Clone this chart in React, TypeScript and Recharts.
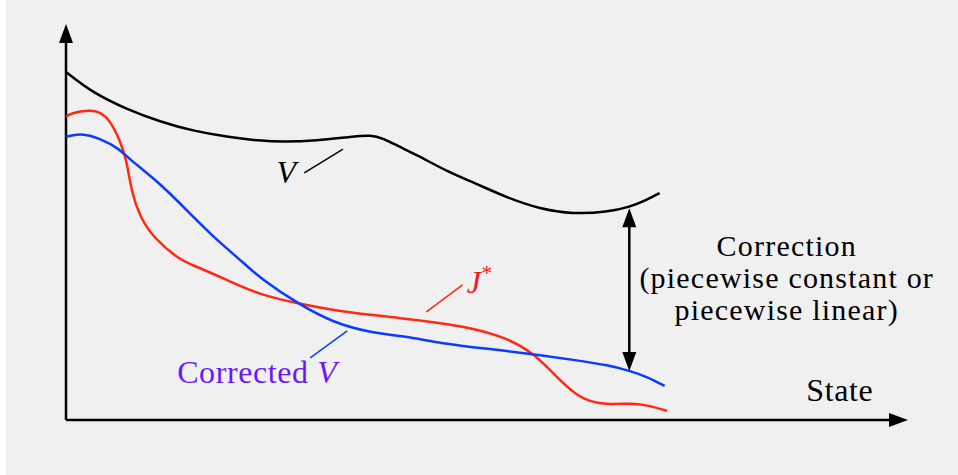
import React from "react";
import {
  LineChart,
  Line,
  XAxis,
  YAxis,
  ReferenceLine,
  ReferenceDot,
} from "recharts";

// state axis and value axis both run 0..100 (schematic units)
const vState = [0, 3.2, 7.2, 11.2, 15.1, 19.1, 23.0, 25.8, 29.8, 33.7, 36.3, 37.6, 39.7, 41.7, 45.6, 48.3, 52.4, 56.3, 60.2, 64.3, 67.0, 69.0, 70.5];
const vValue = [87.9, 82.6, 78.5, 75.3, 73.0, 71.5, 70.5, 70.2, 70.5, 71.5, 72.0, 71.2, 68.9, 66.9, 62.4, 60.1, 56.1, 53.3, 52.0, 52.5, 53.8, 55.6, 57.3];

const jState = [0, 0.5, 2.9, 4.0, 5.2, 6.4, 7.2, 7.8, 8.8, 10.3, 13.5, 15.1, 19.1, 23.0, 27.8, 33.7, 39.7, 44.4, 48.3, 52.4, 55.5, 57.5, 59.5, 61.4, 64.3, 67.0, 69.0, 71.4];
const jValue = [76.5, 77.5, 78.3, 77.8, 75.8, 70.7, 65.7, 57.3, 51.3, 46.2, 40.4, 39.1, 35.4, 31.6, 29.3, 27.0, 25.8, 24.5, 23.2, 20.7, 16.9, 12.6, 8.3, 5.1, 3.8, 4.3, 3.8, 2.3];

const cState = [0, 1.7, 4.0, 6.4, 7.2, 11.2, 15.1, 17.9, 20.7, 23.0, 27.8, 31.7, 35.7, 41.7, 44.4, 48.3, 52.4, 56.3, 60.2, 64.3, 67.0, 69.0, 71.1];
const cValue = [71.5, 72.5, 71.2, 68.4, 66.4, 59.8, 51.3, 45.5, 40.4, 35.9, 29.0, 24.7, 22.2, 20.7, 19.4, 18.4, 17.4, 16.4, 15.2, 13.9, 12.4, 10.9, 8.6];

const correctionAt = 66.9;
const correctionLines = ["Correction", "(piecewise constant or", "piecewise linear)"];

const zip = (xs: number[], ys: number[]) => xs.map((x, i) => ({ s: x, v: ys[i] }));
const vData = zip(vState, vValue);
const jData = zip(jState, jValue);
const cData = zip(cState, cValue);

const FONT = "Liberation Serif";
const FS = 32;
const LS = 0.6;
const RED = "#ff2a10";
const BLUE = "#0a3cff";
const PURPLE = "#6a18ff";

function arrowHead(x: number, y: number, fx: number, fy: number, key: string) {
  // tip at (x,y), pointing away from (fx,fy)
  const len = 19;
  const half = 7;
  const dx = x - fx;
  const dy = y - fy;
  const d = Math.hypot(dx, dy) || 1;
  const ux = dx / d;
  const uy = dy / d;
  const bx = x - ux * len;
  const by = y - uy * len;
  const pts = `${x},${y} ${bx - uy * half},${by + ux * half} ${bx + uy * half},${by - ux * half}`;
  return <polygon key={key} points={pts} fill="#000" />;
}

function Arrow(props: any) {
  const { x1, y1, x2, y2, both } = props;
  const d = Math.hypot(x2 - x1, y2 - y1) || 1;
  const ux = (x2 - x1) / d;
  const uy = (y2 - y1) / d;
  const sx = both ? x1 + ux * 12 : x1;
  const sy = both ? y1 + uy * 12 : y1;
  return (
    <g>
      <line x1={sx} y1={sy} x2={x2 - ux * 12} y2={y2 - uy * 12} stroke="#000" strokeWidth={2.5} />
      {arrowHead(x2, y2, x1, y1, "end")}
      {both ? arrowHead(x1, y1, x2, y2, "start") : null}
    </g>
  );
}

function TextAt({ cx, cy, children, anchor = "start", color = "#000" }: any) {
  return (
    <text x={cx} y={cy} textAnchor={anchor} fill={color} fontFamily={FONT} fontSize={FS} letterSpacing={LS}>
      {children}
    </text>
  );
}

export default function App() {
  return (
    <div style={{ position: "absolute", left: 0, top: 0, width: 958, height: 475, background: "#fff" }}>
      <div style={{ position: "absolute", left: 6, top: 0, right: 0, bottom: 0, background: "#f0f0f0" }} />
      <div style={{ position: "absolute", left: 0, top: 0 }}>
        <LineChart width={958} height={475} margin={{ top: 24, right: 50, bottom: 55, left: 66 }}>
          <XAxis type="number" dataKey="s" domain={[0, 100]} hide allowDataOverflow />
          <YAxis type="number" dataKey="v" domain={[0, 100]} hide allowDataOverflow />

          {/* axes with arrowheads */}
          <ReferenceLine segment={[{ x: 0, y: 0 }, { x: 0, y: 100 }]} ifOverflow="visible" shape={(p: any) => <Arrow {...p} />} />
          <ReferenceLine segment={[{ x: 0, y: 0 }, { x: 100, y: 0 }]} ifOverflow="visible" shape={(p: any) => <Arrow {...p} />} />

          <Line data={vData} dataKey="v" type="basis" stroke="#000" strokeWidth={2.5} dot={false} isAnimationActive={false} />
          <Line data={jData} dataKey="v" type="basis" stroke={RED} strokeWidth={2.5} dot={false} isAnimationActive={false} />
          <Line data={cData} dataKey="v" type="basis" stroke={BLUE} strokeWidth={2.5} dot={false} isAnimationActive={false} />

          {/* correction double arrow */}
          <ReferenceLine
            segment={[{ x: correctionAt, y: 12.4 }, { x: correctionAt, y: 53.5 }]}
            ifOverflow="visible"
            shape={(p: any) => <Arrow {...p} both />}
          />

          {/* leader lines */}
          <ReferenceLine segment={[{ x: 28.3, y: 62.4 }, { x: 32.9, y: 68.4 }]} stroke="#000" strokeWidth={1.5} ifOverflow="visible" />
          <ReferenceLine segment={[{ x: 42.8, y: 27.3 }, { x: 47.1, y: 34.1 }]} stroke={RED} strokeWidth={1.5} ifOverflow="visible" />
          <ReferenceLine segment={[{ x: 29.0, y: 15.7 }, { x: 33.4, y: 22.5 }]} stroke={BLUE} strokeWidth={1.5} ifOverflow="visible" />

          {/* labels */}
          <ReferenceDot x={25.0} y={59.8} r={0} ifOverflow="visible" shape={(p: any) => (
            <TextAt cx={p.cx} cy={p.cy}><tspan fontStyle="italic">V</tspan></TextAt>
          )} />
          <ReferenceDot x={47.6} y={32.1} r={0} ifOverflow="visible" shape={(p: any) => (
            <TextAt cx={p.cx} cy={p.cy} color="#f01a1a">
              <tspan fontStyle="italic">J</tspan>
              <tspan fontSize={21} dy={-13}>*</tspan>
            </TextAt>
          )} />
          <ReferenceDot x={13.2} y={9.3} r={0} ifOverflow="visible" shape={(p: any) => (
            <TextAt cx={p.cx} cy={p.cy} color={PURPLE}>
              Corrected <tspan fontStyle="italic">V</tspan>
            </TextAt>
          )} />
          <ReferenceDot x={91.9} y={4.8} r={0} ifOverflow="visible" shape={(p: any) => (
            <TextAt cx={p.cx} cy={p.cy} anchor="middle">State</TextAt>
          )} />
          <ReferenceDot x={85.6} y={41.4} r={0} ifOverflow="visible" shape={(p: any) => (
            <text x={p.cx} y={p.cy} textAnchor="middle" fontFamily={FONT} fontSize={30} letterSpacing={1.2} fill="#000">
              {correctionLines.map((t, i) => (
                <tspan key={t} x={p.cx} dy={i === 0 ? 0 : 32}>{t}</tspan>
              ))}
            </text>
          )} />
        </LineChart>
      </div>
    </div>
  );
}
